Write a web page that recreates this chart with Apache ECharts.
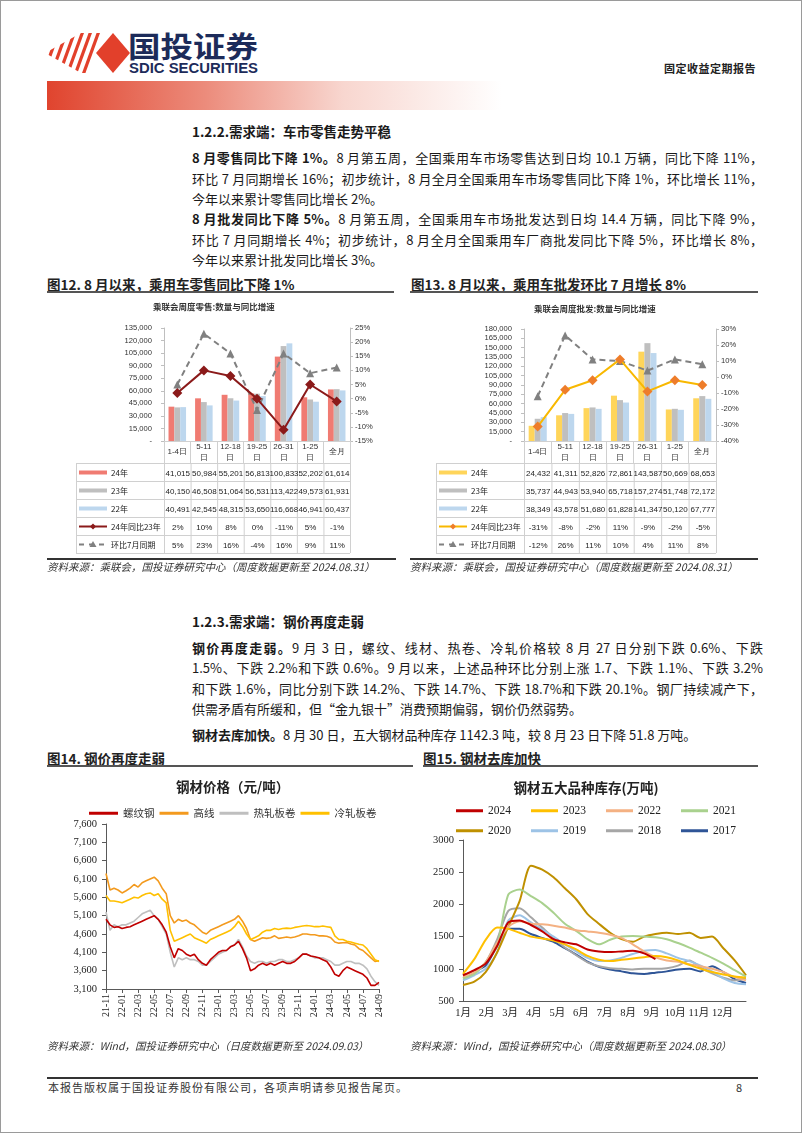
<!DOCTYPE html>
<html><head><meta charset="utf-8">
<script src="https://cdn.jsdelivr.net/npm/echarts@6/dist/echarts.min.js"></script>
<style>
html,body{margin:0;padding:0;background:#fff;}
#page{position:relative;width:802px;height:1133px;overflow:hidden;font-family:"Noto Sans CJK SC",sans-serif;color:#1a1a1a;box-sizing:border-box;border:1px solid #9a9a9a;}
.abs{position:absolute;}
.ln{position:absolute;left:191px;width:571px;font-size:13px;line-height:20px;white-space:nowrap;}
.j{text-align:justify;text-align-last:justify;white-space:normal;}
.h{position:absolute;left:191px;font-size:13.5px;font-weight:bold;line-height:20px;white-space:nowrap;}
.ft{position:absolute;font-size:13.5px;font-weight:bold;line-height:18px;white-space:nowrap;color:#222;}
.ul{position:absolute;height:2px;background:#555;}
.src{position:absolute;font-size:10.5px;font-style:italic;color:#333;white-space:nowrap;line-height:14px;}
.sl{position:absolute;height:1.5px;background:#333;}
</style></head>
<body><div id="page">

<!-- header -->
<svg class="abs" style="left:40px;top:28px" width="100" height="50">
  <defs><clipPath id="cp"><polygon points="4,24 40,4 62,4 62,44 40,44"/></clipPath></defs>
  <g clip-path="url(#cp)" stroke="#e2402b" stroke-width="3.2">
    <line x1="-6" y1="46" x2="10" y2="2"/><line x1="2" y1="46" x2="18" y2="2"/>
    <line x1="10" y1="46" x2="26" y2="2"/><line x1="18" y1="46" x2="34" y2="2"/>
    <line x1="26" y1="46" x2="42" y2="2"/><line x1="34" y1="46" x2="50" y2="2"/>
    <line x1="42" y1="46" x2="58" y2="2"/>
  </g>
  <polygon points="55,24 72,4 89,24 72,44" fill="#e2402b"/>
</svg>
<svg class="abs" style="left:126px;top:30px" width="140" height="46">
  <text x="1" y="27" font-size="29" font-weight="bold" fill="#1c2b5a" font-family="Noto Sans CJK SC" textLength="130" lengthAdjust="spacingAndGlyphs">国投证券</text>
  <text x="2" y="42" font-size="14" font-weight="bold" fill="#1c2b5a" font-family="Liberation Sans Narrow, Liberation Sans" textLength="129" lengthAdjust="spacingAndGlyphs">SDIC SECURITIES</text>
</svg>
<div class="abs" style="left:46px;top:80px;width:455px;height:29px;background:linear-gradient(to right,#e0442e 0%,#ec8c7c 35%,#f8d6cf 65%,rgba(255,255,255,0) 100%);"></div>
<div class="abs" style="right:45px;top:60px;font-size:11px;font-weight:bold;color:#222;line-height:14px;letter-spacing:0.5px;">固定收益定期报告</div>

<!-- section 1.2.2 -->
<div class="h" style="top:120px">1.2.2.需求端：车市零售走势平稳</div>
<div class="ln j" style="top:147px"><b>8 月零售同比下降 1%。</b>8 月第五周，全国乘用车市场零售达到日均 10.1 万辆，同比下降 11%，</div>
<div class="ln j" style="top:168px">环比 7 月同期增长 16%；初步统计，8 月全月全国乘用车市场零售同比下降 1%，环比增长 11%，</div>
<div class="ln" style="top:188px">今年以来累计零售同比增长 2%。</div>
<div class="ln j" style="top:208px"><b>8 月批发同比下降 5%。</b>8 月第五周，全国乘用车市场批发达到日均 14.4 万辆，同比下降 9%，</div>
<div class="ln j" style="top:229px">环比 7 月同期增长 4%；初步统计，8 月全月全国乘用车厂商批发同比下降 5%，环比增长 8%，</div>
<div class="ln" style="top:249px">今年以来累计批发同比增长 3%。</div>

<div class="ft" style="left:46px;top:274px">图12. 8 月以来，乘用车零售同比下降 1%</div>
<div class="ul" style="left:46px;top:290px;width:347px"></div>
<div class="ft" style="left:410px;top:274px">图13. 8 月以来，乘用车批发环比 7 月增长 8%</div>
<div class="ul" style="left:409px;top:290px;width:348px"></div>

<div id="c12" class="abs" style="left:40px;top:292px;width:360px;height:180px"></div>
<div id="c13" class="abs" style="left:400px;top:292px;width:370px;height:180px"></div>
<div id="t12"></div><div id="t13"></div>

<div class="sl" style="left:46px;top:557px;width:349px"></div>
<div class="src" style="left:46px;top:559px">资料来源：乘联会，国投证券研究中心（周度数据更新至 2024.08.31）</div>
<div class="sl" style="left:409px;top:557px;width:348px"></div>
<div class="src" style="left:409px;top:559px">资料来源：乘联会，国投证券研究中心（周度数据更新至 2024.08.31）</div>

<!-- section 1.2.3 -->
<div class="h" style="top:610px">1.2.3.需求端：钢价再度走弱</div>
<div class="ln j" style="top:637px"><b>钢价再度走弱。</b>9 月 3 日，螺纹、线材、热卷、冷轧价格较 8 月 27 日分别下跌 0.6%、下跌</div>
<div class="ln j" style="top:657px">1.5%、下跌 2.2%和下跌 0.6%。9 月以来，上述品种环比分别上涨 1.7、下跌 1.1%、下跌 3.2%</div>
<div class="ln j" style="top:678px">和下跌 1.6%，同比分别下跌 14.2%、下跌 14.7%、下跌 18.7%和下跌 20.1%。钢厂持续减产下，</div>
<div class="ln" style="top:698px">供需矛盾有所缓和，但“金九银十”消费预期偏弱，钢价仍然弱势。</div>
<div class="ln" style="top:724px"><b>钢材去库加快。</b>8 月 30 日，五大钢材品种库存 1142.3 吨，较 8 月 23 日下降 51.8 万吨。</div>

<div class="ft" style="left:46px;top:748px">图14. 钢价再度走弱</div>
<div class="ul" style="left:46px;top:764px;width:366px"></div>
<div class="ft" style="left:422px;top:748px">图15. 钢材去库加快</div>
<div class="ul" style="left:422px;top:764px;width:335px"></div>

<div id="c14" class="abs" style="left:40px;top:768px;width:360px;height:270px"></div>
<div id="c15" class="abs" style="left:400px;top:768px;width:370px;height:270px"></div>

<div class="src" style="left:46px;top:1038px">资料来源：Wind，国投证券研究中心（日度数据更新至 2024.09.03）</div>
<div class="src" style="left:409px;top:1038px">资料来源：Wind，国投证券研究中心（周度数据更新至 2024.08.30）</div>

<!-- footer -->
<div class="abs" style="left:46px;top:1076px;width:711px;height:1.5px;background:#333"></div>
<div class="abs" style="left:47px;top:1079px;font-size:11px;letter-spacing:1px;color:#333;line-height:14px;white-space:nowrap">本报告版权属于国投证券股份有限公司，各项声明请参见报告尾页。</div>
<div class="abs" style="left:735px;top:1079px;font-size:11px;color:#333;line-height:14px">8</div>
</div>

<script>
// ===== Figure 12: weekly retail =====
const weekCats = ['1-4日','5-11日','12-18日','19-25日','26-31日','1-25日','全月'];
const retail24 = [41015,50984,55201,56813,100833,52202,61614];
const retail23 = [40150,46508,51064,56531,113422,49573,61931];
const retail22 = [40491,42545,48315,53650,116668,46941,60437];
const retailYoY = [2,10,8,0,-11,5,-1];
const retailMoM = [5,23,16,-4,16,9,11];
// ===== Figure 13: weekly wholesale =====
const whole24 = [24432,41311,52826,72861,143587,50669,68653];
const whole23 = [35737,44943,53940,65718,157274,51748,72172];
const whole22 = [38349,43578,51680,61828,141347,50120,67777];
const wholeYoY = [-31,-8,-2,11,-9,-2,-5];
const wholeMoM = [-12,26,11,10,4,11,8];
// ===== Figure 14: steel prices (semi-monthly readings) =====
const priceDates = ['2021-11-01','2021-11-15','2021-12-01','2021-12-15','2022-01-04','2022-01-17','2022-02-07','2022-02-21','2022-03-01','2022-03-15','2022-04-01','2022-04-15','2022-05-05','2022-05-16','2022-06-01','2022-06-15','2022-07-01','2022-07-15','2022-08-01','2022-08-15','2022-09-01','2022-09-15','2022-10-10','2022-10-17','2022-11-01','2022-11-15','2022-12-01','2022-12-15','2023-01-03','2023-01-16','2023-02-01','2023-02-15','2023-03-01','2023-03-15','2023-04-03','2023-04-17','2023-05-04','2023-05-15','2023-06-01','2023-06-15','2023-07-03','2023-07-17','2023-08-01','2023-08-15','2023-09-01','2023-09-15','2023-10-09','2023-10-16','2023-11-01','2023-11-15','2023-12-01','2023-12-15','2024-01-02','2024-01-15','2024-02-01','2024-02-19','2024-03-01','2024-03-15','2024-04-01','2024-04-15','2024-05-06','2024-05-15','2024-06-03','2024-06-17','2024-07-01','2024-07-15','2024-08-01','2024-08-15','2024-09-03'];
const rebar = [5000,4850,4780,4800,4750,4780,4800,4850,4900,4950,5000,5050,5100,5000,4850,4650,4250,3950,4200,4150,4050,4000,4050,3900,3800,3750,3900,4000,4100,4150,4150,4250,4300,4400,4200,3950,3600,3650,3750,3800,3750,3800,3750,3800,3850,3800,3800,3850,3950,4050,4050,4000,3980,3950,3900,3850,3700,3500,3450,3600,3700,3650,3600,3550,3500,3400,3200,3200,3280];
const wireRod = [6250,5800,5850,5800,5720,5780,5850,5950,5880,6000,6050,6100,6150,6050,5850,5700,5100,4900,5000,4950,4980,4900,4850,4750,4650,4600,4700,4750,4800,4850,4900,4950,5000,5100,4950,4750,4450,4400,4450,4500,4480,4500,4550,4480,4500,4520,4500,4520,4550,4600,4600,4580,4580,4550,4550,4540,4500,4380,4350,4360,4370,4330,4300,4200,4150,4050,3950,3850,3870];
const hotRolled = [5200,4700,4850,4800,4850,4850,4900,4950,5050,5150,5200,5250,5100,5000,4800,4600,4100,3700,3950,3900,3950,3900,3900,3850,3750,3750,3850,3950,4050,4100,4150,4250,4300,4450,4250,4000,3850,3800,3850,3850,3800,3850,3850,3900,3900,3850,3850,3900,3950,4050,4050,4000,3950,3950,3950,3900,3850,3750,3750,3800,3850,3850,3800,3800,3750,3650,3450,3300,3200];
const coldRolled = [5650,5500,5500,5480,5450,5500,5550,5600,5580,5650,5700,5720,5650,5700,5550,5450,4700,4400,4450,4500,4550,4600,4500,4450,4400,4350,4450,4500,4550,4600,4650,4700,4800,4950,4800,4600,4450,4500,4550,4650,4700,4700,4750,4720,4750,4760,4750,4780,4800,4820,4830,4820,4800,4800,4820,4800,4780,4550,4450,4450,4400,4380,4350,4320,4300,4200,4050,3900,3850];
// ===== Figure 15: five-product steel inventory (bi-weekly readings) =====
const invWeeks = ['W1','W3','W5','W7','W9','W11','W13','W15','W17','W19','W21','W23','W25','W27','W29','W31','W33','W35','W37','W39','W41','W43','W45','W47','W49','W51'];
const monthLabels = ['1月','2月','3月','4月','5月','6月','7月','8月','9月','10月','11月','12月'];
const inv2024 = [900,980,1080,1350,1720,1750,1680,1580,1460,1410,1380,1300,1270,1260,1270,1280,1240,1150];
const inv2023 = [920,1150,1450,1640,1620,1560,1500,1470,1440,1380,1300,1200,1140,1120,1140,1160,1180,1200,1180,1130,1060,1000,950,910,880,860];
const inv2022 = [880,950,1100,1400,1650,1740,1700,1690,1670,1640,1600,1580,1560,1530,1480,1380,1270,1180,1130,1110,1070,1040,1000,950,870,820];
const inv2021 = [850,920,1100,1350,2150,2230,2130,2020,1870,1700,1590,1460,1380,1450,1500,1510,1500,1490,1460,1400,1330,1250,1170,1080,980,880];
const inv2020 = [750,800,950,1250,1650,2050,2600,2540,2420,2250,2080,1850,1700,1560,1460,1420,1500,1540,1560,1540,1560,1480,1500,1320,1130,900];
const inv2019 = [820,900,1000,1250,1750,1830,1720,1610,1500,1380,1270,1170,1120,1130,1170,1230,1280,1290,1240,1170,1120,1050,960,850,780,760];
const inv2018 = [850,930,1100,1450,1900,1940,1800,1640,1480,1330,1210,1100,1040,1010,1000,990,1000,1000,1010,1050,1130,1020,930,860,820,850];
const inv2017 = [900,960,1050,1350,1620,1620,1540,1480,1420,1320,1220,1110,1030,990,960,930,920,940,960,990,1000,960,1040,950,840,780];

const CJK = '"Noto Sans CJK SC", sans-serif';
const ARIAL = '"Liberation Sans", Arial, sans-serif';
const SERIF = '"Liberation Serif", "Noto Sans CJK SC", serif';
const thou = v => v === 0 ? '-' : v.toLocaleString('en-US');

function barLineOption(cfg) {
  return {
    animation: false,
    title: { text: cfg.title, left: cfg.titleLeft, top: cfg.titleTop,
      textStyle: { fontSize: 8.5, fontWeight: 'bold', color: '#333', fontFamily: CJK } },
    grid: cfg.grid,
    xAxis: { type: 'category', data: weekCats,
      axisLine: { lineStyle: { color: '#d0d0d0' } },
      axisTick: { show: true, length: 22, interval: 0, lineStyle: { color: '#d0d0d0' } },
      axisLabel: { interval: 0, fontSize: 8, color: '#333', fontFamily: ARIAL, margin: 11, verticalAlign: 'middle', lineHeight: 11,
        formatter: v => v.length > 4 ? v.replace('日', '\n日') : v } },
    yAxis: [
      { type: 'value', min: 0, max: cfg.lmax, interval: 15000,
        axisLine: { show: true, lineStyle: { color: '#bfbfbf' } },
        axisTick: { show: true, length: 3, lineStyle: { color: '#bfbfbf' } },
        splitLine: { show: false },
        axisLabel: { fontSize: 7.6, color: '#333', fontFamily: ARIAL, margin: 12, formatter: thou } },
      { type: 'value', min: cfg.rmin, max: cfg.rmax, interval: cfg.rint, position: 'right',
        axisLine: { show: true, lineStyle: { color: '#bfbfbf' } },
        axisTick: { show: true, length: 3, lineStyle: { color: '#bfbfbf' } },
        splitLine: { show: false },
        axisLabel: { fontSize: 7.6, color: '#333', fontFamily: ARIAL, margin: 5, formatter: v => v + '%' } }
    ],
    series: [
      { name: '24年', type: 'bar', data: cfg.b24, barGap: '0%', barCategoryGap: '34%', itemStyle: { color: cfg.c24 } },
      { name: '23年', type: 'bar', data: cfg.b23, itemStyle: { color: '#bfbfbf' } },
      { name: '22年', type: 'bar', data: cfg.b22, itemStyle: { color: '#bdd7ee' } },
      { name: '24年同比23年', type: 'line', yAxisIndex: 1, data: cfg.yoy, symbol: 'diamond', symbolSize: 10,
        lineStyle: { color: cfg.cYoY, width: 2 }, itemStyle: { color: cfg.cYoYMark }, z: 5 },
      { name: '环比7月同期', type: 'line', yAxisIndex: 1, data: cfg.mom, symbol: 'triangle', symbolSize: 8,
        lineStyle: { color: '#808080', width: 2, type: [6, 4] }, itemStyle: { color: '#808080' }, z: 4 }
    ]
  };
}

echarts.init(document.getElementById('c12')).setOption(barLineOption({
  title: '乘联会周度零售:数量与同比增速', titleLeft: 107, titleTop: 5,
  grid: { left: 123, right: 51, top: 35, bottom: 32 },
  lmax: 135000, rmin: -15, rmax: 25, rint: 5,
  b24: retail24, b23: retail23, b22: retail22, yoy: retailYoY, mom: retailMoM,
  c24: '#f07b72', cYoY: '#8b1a1a', cYoYMark: '#8b1a1a'
}));
echarts.init(document.getElementById('c13')).setOption(barLineOption({
  title: '乘联会周度批发:数量与同比增速', titleLeft: 128, titleTop: 7,
  grid: { left: 123, right: 55, top: 36, bottom: 32 },
  lmax: 180000, rmin: -40, rmax: 30, rint: 10,
  b24: whole24, b23: whole23, b22: whole22, yoy: wholeYoY, mom: wholeMoM,
  c24: '#ffd55a', cYoY: '#f8b800', cYoYMark: '#ee7d2a'
}));

function makeTable(hostId, o) {
  const n = o.rows[0].values.length;
  const W = o.legendW + n * o.colW, H = o.rows.length * o.rowH;
  let s = `<svg class="abs" style="left:${o.left}px;top:${o.top}px;overflow:visible" width="${W + 1}" height="${H + 1}">`;
  for (let r = 0; r <= o.rows.length; r++) s += `<line x1="0" x2="${W}" y1="${r * o.rowH + 0.5}" y2="${r * o.rowH + 0.5}" stroke="#d0d0d0"/>`;
  const xs = [0.5]; for (let c = 0; c <= n; c++) xs.push(o.legendW + c * o.colW + 0.5);
  xs.forEach(x => s += `<line x1="${x}" x2="${x}" y1="0" y2="${H}" stroke="#d0d0d0"/>`);
  o.rows.forEach((row, r) => {
    const cy = r * o.rowH + o.rowH / 2 + 0.5;
    if (row.kind === 'bar') {
      s += `<line x1="3" x2="31" y1="${cy}" y2="${cy}" stroke="${row.color}" stroke-width="4"/>`;
    } else if (row.dash) {
      s += `<line x1="3" x2="31" y1="${cy}" y2="${cy}" stroke="${row.color}" stroke-width="2" stroke-dasharray="5,5"/>`;
      s += `<polygon points="17,${cy - 3.5} 20.5,${cy + 2.5} 13.5,${cy + 2.5}" fill="${row.color}"/>`;
    } else {
      s += `<line x1="3" x2="31" y1="${cy}" y2="${cy}" stroke="${row.color}" stroke-width="2"/>`;
      s += `<polygon points="17,${cy - 3} 20,${cy} 17,${cy + 3} 14,${cy}" fill="${row.mark}"/>`;
    }
    s += `<text x="35" y="${cy + 3}" font-size="8" fill="#222" font-family='${CJK}'>${row.name}</text>`;
    row.values.forEach((v, c) => {
      s += `<text x="${o.legendW + c * o.colW + o.colW / 2 + 0.5}" y="${cy + 3}" text-anchor="middle" font-size="8" fill="#222" font-family='${ARIAL}'>${row.fmt(v)}</text>`;
    });
  });
  s += '</svg>';
  document.getElementById(hostId).outerHTML = s;
}
const pct = v => v + '%';
const num = v => v.toLocaleString('en-US');
makeTable('t12', { left: 75, top: 462, legendW: 88, colW: 186 / 7, rowH: 18, rows: [
  { name: '24年', kind: 'bar', color: '#f07b72', values: retail24, fmt: num },
  { name: '23年', kind: 'bar', color: '#bfbfbf', values: retail23, fmt: num },
  { name: '22年', kind: 'bar', color: '#bdd7ee', values: retail22, fmt: num },
  { name: '24年同比23年', kind: 'line', color: '#8b1a1a', mark: '#8b1a1a', values: retailYoY, fmt: pct },
  { name: '环比7月同期', kind: 'line', dash: true, color: '#808080', values: retailMoM, fmt: pct }
]});
makeTable('t13', { left: 435, top: 462, legendW: 88, colW: 192 / 7, rowH: 18, rows: [
  { name: '24年', kind: 'bar', color: '#ffd55a', values: whole24, fmt: num },
  { name: '23年', kind: 'bar', color: '#bfbfbf', values: whole23, fmt: num },
  { name: '22年', kind: 'bar', color: '#bdd7ee', values: whole22, fmt: num },
  { name: '24年同比23年', kind: 'line', color: '#f8b800', mark: '#ee7d2a', values: wholeYoY, fmt: pct },
  { name: '环比7月同期', kind: 'line', dash: true, color: '#808080', values: wholeMoM, fmt: pct }
]});

// ===== Figure 14 =====
const steelColors = ['#c00000', '#f39a1e', '#bfbfbf', '#ffc000'];
echarts.init(document.getElementById('c14')).setOption({
  animation: false,
  color: steelColors,
  title: { text: '钢材价格（元/吨）', left: 130, top: 6,
    textStyle: { fontSize: 13.5, fontWeight: 'bold', color: '#222', fontFamily: CJK } },
  legend: { left: 43, top: 34, icon: 'rect', itemWidth: 29, itemHeight: 3, itemGap: 5,
    textStyle: { fontSize: 10.5, color: '#333', fontFamily: CJK } },
  grid: { left: 65, right: 22, top: 55, bottom: 50 },
  xAxis: { type: 'category', data: priceDates, boundaryGap: false,
    axisLine: { lineStyle: { color: '#595959' } },
    axisTick: { show: true, interval: 3, length: 4, lineStyle: { color: '#595959' } },
    axisLabel: { interval: 3, rotate: 90, fontSize: 10, color: '#222', fontFamily: SERIF, margin: 5,
      formatter: v => v.slice(2, 7) } },
  yAxis: { type: 'value', min: 3100, max: 7600, interval: 500,
    axisLine: { show: true, lineStyle: { color: '#595959' } },
    axisTick: { show: true, length: 4, lineStyle: { color: '#595959' } },
    splitLine: { show: false },
    axisLabel: { fontSize: 10.5, color: '#222', fontFamily: SERIF, margin: 9, formatter: v => v.toLocaleString('en-US') } },
  series: [
    { name: '螺纹钢', type: 'line', data: rebar, showSymbol: false, lineStyle: { width: 1.6 } },
    { name: '高线', type: 'line', data: wireRod, showSymbol: false, lineStyle: { width: 1.6 } },
    { name: '热轧板卷', type: 'line', data: hotRolled, showSymbol: false, lineStyle: { width: 1.6 }, z: 1 },
    { name: '冷轧板卷', type: 'line', data: coldRolled, showSymbol: false, lineStyle: { width: 1.6 } }
  ]
});

// ===== Figure 15 =====
const invNames = ['2024','2023','2022','2021','2020','2019','2018','2017'];
const invColors = ['#c00000','#ffc000','#f4b183','#a9d18e','#bf9000','#9dc3e6','#a6a6a6','#2f5597'];
const invData = [inv2024, inv2023, inv2022, inv2021, inv2020, inv2019, inv2018, inv2017];
const legendBase = { icon: 'rect', itemWidth: 27, itemHeight: 3, itemGap: 20, left: 50,
  textStyle: { fontSize: 11.5, color: '#222', fontFamily: SERIF } };
echarts.init(document.getElementById('c15')).setOption({
  animation: false,
  title: { text: '钢材五大品种库存(万吨)', left: 'center', top: 7,
    textStyle: { fontSize: 13.5, fontWeight: 'bold', color: '#222', fontFamily: CJK } },
  legend: [
    Object.assign({}, legendBase, { top: 31, data: invNames.slice(0, 4) }),
    Object.assign({}, legendBase, { top: 51, data: invNames.slice(4) })
  ],
  grid: { left: 62, right: 25, top: 71, bottom: 38 },
  xAxis: [
    { type: 'category', data: invWeeks, boundaryGap: false,
      axisLine: { lineStyle: { color: '#595959' } }, axisTick: { show: false }, axisLabel: { show: false } },
    { type: 'value', min: 0, max: 12, interval: 1, position: 'bottom',
      axisLine: { show: false }, axisTick: { show: false }, splitLine: { show: false },
      axisLabel: { fontSize: 10.5, color: '#222', fontFamily: SERIF, margin: 7,
        formatter: v => v < 12 ? monthLabels[v] : '' } }
  ],
  yAxis: { type: 'value', min: 500, max: 3000, interval: 500,
    axisLine: { show: true, lineStyle: { color: '#595959' } },
    axisTick: { show: true, length: 4, lineStyle: { color: '#595959' } },
    splitLine: { show: false },
    axisLabel: { fontSize: 10.5, color: '#222', fontFamily: SERIF, margin: 9, formatter: v => String(v) } },
  series: invNames.map((n, i) => ({
    name: n, type: 'line', xAxisIndex: 0, data: invData[i], showSymbol: false, smooth: 0.25,
    lineStyle: { width: 2, color: invColors[i] }, itemStyle: { color: invColors[i] }, z: 10 - i
  }))
});
</script>
</body></html>
